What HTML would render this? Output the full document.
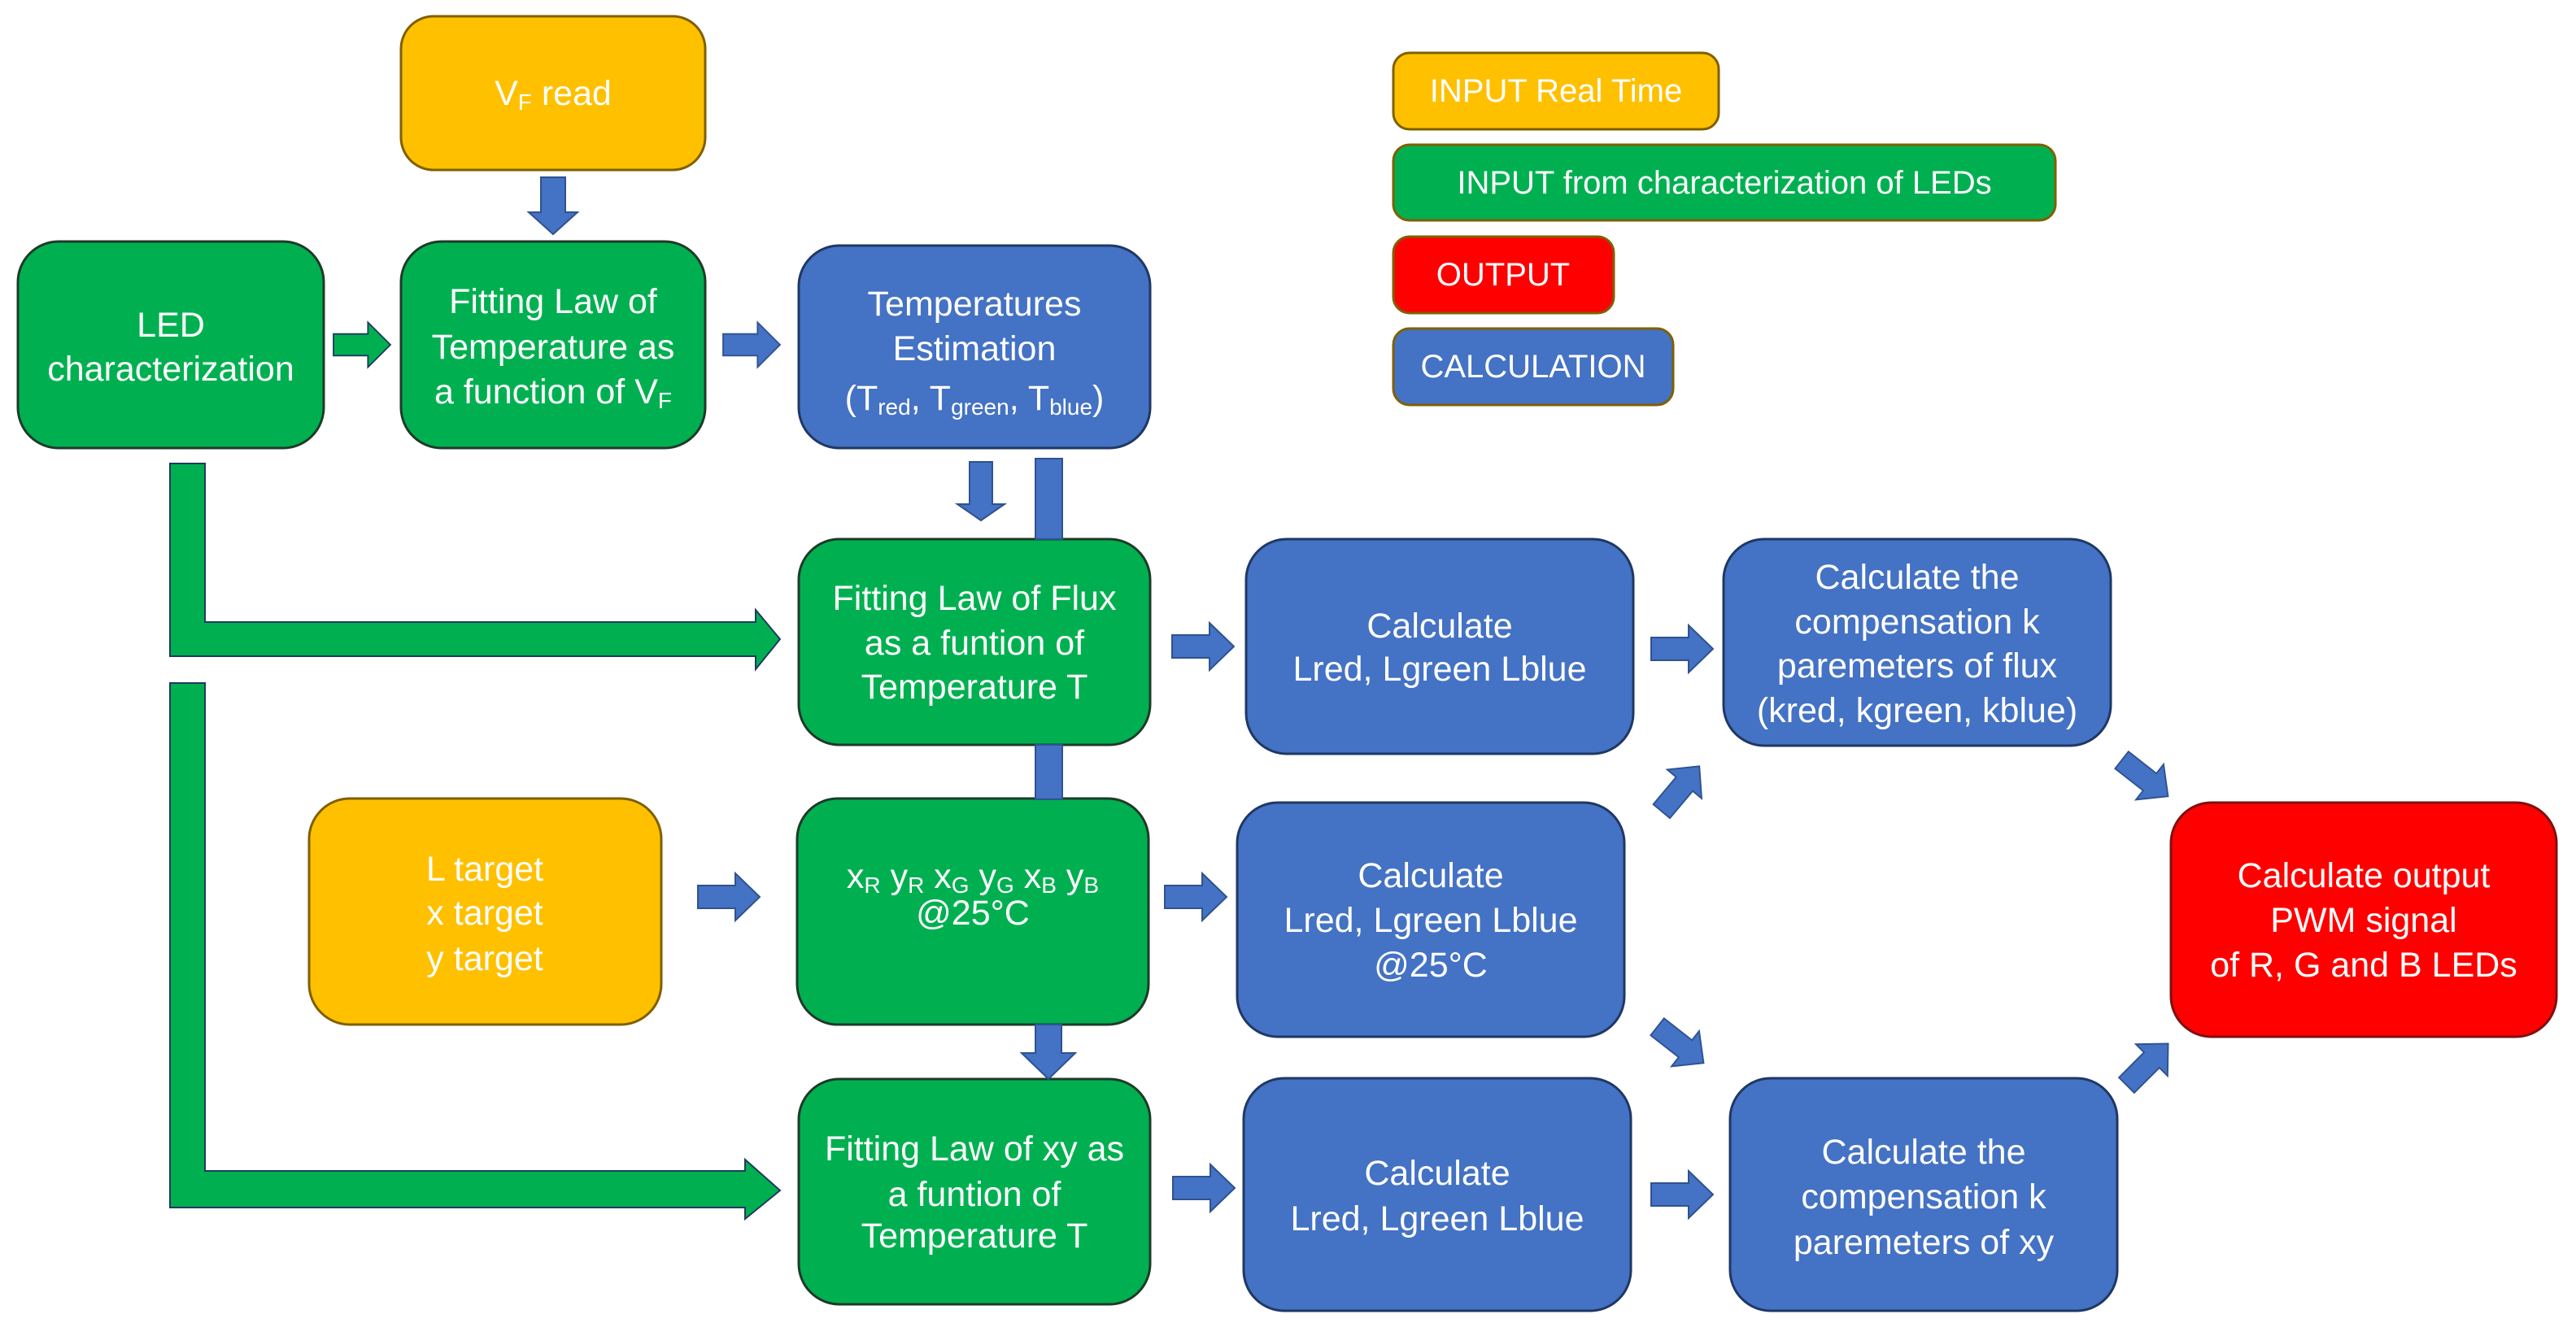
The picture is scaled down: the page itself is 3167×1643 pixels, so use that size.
<!DOCTYPE html>
<html><head><meta charset="utf-8"><style>
html,body{margin:0;padding:0;background:#fff}
svg{display:block}
text{font-family:"Liberation Sans Narrow","Liberation Sans",sans-serif;fill:#fff;font-size:43px;text-anchor:middle;dominant-baseline:central}
.lg{font-size:40px}
</style></head><body>
<svg width="3167" height="1643" viewBox="0 0 3167 1643" xmlns="http://www.w3.org/2000/svg">
<defs>
<polygon id="ar" points="-38,-14 8,-14 8,-29 38,0 8,29 8,14 -38,14"/>
</defs>
<g stroke="#1f3864" stroke-width="3">
<!-- boxes -->
<rect x="493" y="20" width="374" height="189" rx="40" fill="#FFC000" stroke="#7f6000"/>
<rect x="22" y="297" width="376" height="254" rx="50" fill="#00B050" stroke="#1f3a28"/>
<rect x="493" y="297" width="374" height="254" rx="50" fill="#00B050" stroke="#1f3a28"/>
<rect x="982" y="302" width="432" height="249" rx="50" fill="#4472C4"/>
<rect x="982" y="663" width="432" height="253" rx="50" fill="#00B050" stroke="#1f3a28"/>
<rect x="380" y="982" width="433" height="278" rx="50" fill="#FFC000" stroke="#7f6000"/>
<rect x="980" y="982" width="432" height="278" rx="50" fill="#00B050" stroke="#1f3a28"/>
<rect x="982" y="1327" width="432" height="277" rx="50" fill="#00B050" stroke="#1f3a28"/>
<rect x="1532" y="663" width="476" height="264" rx="50" fill="#4472C4"/>
<rect x="2119" y="663" width="476" height="254" rx="50" fill="#4472C4"/>
<rect x="1521" y="987" width="476" height="288" rx="50" fill="#4472C4"/>
<rect x="1529" y="1326" width="476" height="286" rx="50" fill="#4472C4"/>
<rect x="2127" y="1326" width="476" height="286" rx="50" fill="#4472C4"/>
<rect x="2669" y="987" width="474" height="288" rx="50" fill="#FF0000" stroke="#7f1010"/>
<!-- legend -->
<rect x="1713" y="65" width="400" height="94" rx="20" fill="#FFC000" stroke="#7f6000"/>
<rect x="1713" y="178" width="814" height="93" rx="20" fill="#00B050" stroke="#7f6000"/>
<rect x="1713" y="291" width="271" height="94" rx="20" fill="#FF0000" stroke="#7f6000"/>
<rect x="1713" y="404" width="344" height="94" rx="20" fill="#4472C4" stroke="#7f6000"/>
</g>
<g stroke="#2f528f" stroke-width="2" fill="#4472C4">
<rect x="1273" y="564" width="33" height="99"/>
<rect x="1273" y="916" width="33" height="67"/>
<!-- down arrows -->
<polygon points="665,218 695,218 695,261 710,261 680,288 650,261 665,261"/>
<polygon points="1192,568 1220,568 1220,620 1235,620 1206,640 1177,620 1192,620"/>
<polygon points="1273,1260 1305,1260 1305,1295 1322,1295 1289,1327 1256,1295 1273,1295"/>
<!-- right arrows -->
<use href="#ar" transform="translate(924,424) scale(0.92,0.95)"/>
<use href="#ar" transform="translate(1479,795)"/>
<use href="#ar" transform="translate(896,1103)"/>
<use href="#ar" transform="translate(1470,1103)"/>
<use href="#ar" transform="translate(1480,1461)"/>
<use href="#ar" transform="translate(2068,798)"/>
<use href="#ar" transform="translate(2068,1469)"/>
<!-- diagonals -->
<use href="#ar" transform="translate(2066,970) rotate(-50) scale(0.95)"/>
<use href="#ar" transform="translate(2637,957) rotate(38) scale(0.95)"/>
<use href="#ar" transform="translate(2066,1285) rotate(38) scale(0.95)"/>
<use href="#ar" transform="translate(2640,1309) rotate(-45) scale(0.95)"/>
</g>
<g stroke="#1f3a5f" stroke-width="2" fill="#00B050">
<use href="#ar" transform="translate(445,424) scale(0.92,0.95)"/>
<polygon points="209,570 252,570 252,765 929,765 929,750 959,786 929,823 929,807 209,807"/>
<polygon points="209,840 252,840 252,1440 916,1440 916,1426 959,1464 916,1499 916,1485 209,1485"/>
</g>
<!-- text -->
<text x="680" y="115">V<tspan font-size="28" dy="10">F</tspan><tspan dy="-10"> read</tspan></text>
<text x="210" y="400">LED</text>
<text x="210" y="454">characterization</text>
<text x="680" y="371">Fitting Law of</text>
<text x="680" y="427">Temperature as</text>
<text x="680" y="482">a function of V<tspan font-size="28" dy="10">F</tspan></text>
<text x="1198" y="374">Temperatures</text>
<text x="1198" y="429">Estimation</text>
<text x="1198" y="490">(T<tspan font-size="28" dy="10">red</tspan><tspan dy="-10">, T</tspan><tspan font-size="28" dy="10">green</tspan><tspan dy="-10">, T</tspan><tspan font-size="28" dy="10">blue</tspan><tspan dy="-10">)</tspan></text>
<text x="1198" y="736">Fitting Law of Flux</text>
<text x="1198" y="791">as a funtion of</text>
<text x="1198" y="845">Temperature T</text>
<text x="596" y="1069">L target</text>
<text x="596" y="1123">x target</text>
<text x="596" y="1179">y target</text>
<text x="1196" y="1078">x<tspan font-size="28" dy="10">R</tspan><tspan dy="-10"> y</tspan><tspan font-size="28" dy="10">R</tspan><tspan dy="-10"> x</tspan><tspan font-size="28" dy="10">G</tspan><tspan dy="-10"> y</tspan><tspan font-size="28" dy="10">G</tspan><tspan dy="-10"> x</tspan><tspan font-size="28" dy="10">B</tspan><tspan dy="-10"> y</tspan><tspan font-size="28" dy="10">B</tspan></text>
<text x="1196" y="1123">@25°C</text>
<text x="1198" y="1413">Fitting Law of xy as</text>
<text x="1198" y="1469">a funtion of</text>
<text x="1198" y="1520">Temperature T</text>
<text x="1770" y="770">Calculate</text>
<text x="1770" y="823">Lred, Lgreen Lblue</text>
<text x="2357" y="710">Calculate the</text>
<text x="2357" y="765">compensation k</text>
<text x="2357" y="819">paremeters of flux</text>
<text x="2357" y="874">(kred, kgreen, kblue)</text>
<text x="1759" y="1077">Calculate</text>
<text x="1759" y="1132">Lred, Lgreen Lblue</text>
<text x="1759" y="1187">@25°C</text>
<text x="1767" y="1443">Calculate</text>
<text x="1767" y="1499">Lred, Lgreen Lblue</text>
<text x="2365" y="1417">Calculate the</text>
<text x="2365" y="1472">compensation k</text>
<text x="2365" y="1528">paremeters of xy</text>
<text x="2906" y="1077">Calculate output</text>
<text x="2906" y="1132">PWM signal</text>
<text x="2906" y="1187">of R, G and B LEDs</text>
<text class="lg" x="1913" y="112">INPUT Real Time</text>
<text class="lg" x="2120" y="225">INPUT from characterization of LEDs</text>
<text class="lg" x="1848" y="338">OUTPUT</text>
<text class="lg" x="1885" y="451">CALCULATION</text>
</svg>
</body></html>
